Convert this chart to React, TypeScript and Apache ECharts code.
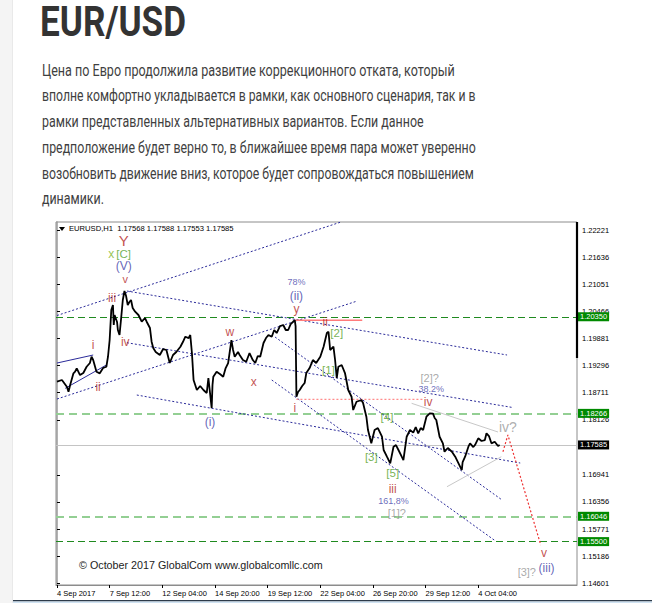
import React, { useEffect, useRef } from "react";
import * as echarts from "echarts";

// ---------- data ----------
const xTickBars = [0, 64, 128, 192, 256, 320, 384, 448, 512];
const xTickLabels = ["4 Sep 2017", "7 Sep 12:00", "12 Sep 04:00", "14 Sep 20:00", "19 Sep 12:00", "22 Sep 04:00", "26 Sep 20:00", "29 Sep 12:00", "4 Oct 04:00"];
const yTickValues = [1.22221, 1.21636, 1.21051, 1.20466, 1.19881, 1.19296, 1.18711, 1.18126, 1.16941, 1.16356, 1.15771, 1.15186, 1.14601];

const priceBar = [0, 6, 12, 14, 16, 20, 22, 24, 28, 32, 36, 40, 42, 44, 48, 52, 56, 60, 62, 64, 66, 68, 69, 70, 73, 74, 76, 78, 80, 82, 84, 86, 88, 90, 92, 95, 99, 103, 107, 109, 113, 115, 117, 120, 125, 129, 133, 137, 141, 145, 150, 153, 156, 160, 162, 164, 166, 170, 174, 178, 182, 184, 186, 188, 189, 190, 194, 198, 202, 205, 208, 212, 214, 216, 220, 222, 226, 230, 234, 238, 241, 244, 247, 251, 254, 257, 261, 264, 267, 271, 275, 278, 281, 284, 287, 289, 290, 291, 293, 295, 298, 301, 303, 307, 311, 315, 320, 324, 328, 330, 332, 336, 338, 340, 342, 346, 350, 354, 358, 360, 364, 370, 372, 376, 378, 382, 386, 390, 395, 397, 401, 405, 409, 412, 415, 419, 421, 425, 429, 433, 436, 439, 442, 445, 449, 453, 457, 459, 461, 465, 469, 471, 475, 480, 484, 488, 492, 493, 496, 500, 502, 506, 508, 512, 516, 520, 522, 525, 528, 532, 536, 538];
const priceClose = [1.18949, 1.18986, 1.18841, 1.18733, 1.18878, 1.1913, 1.19165, 1.19238, 1.19093, 1.19136, 1.19272, 1.19352, 1.19488, 1.19417, 1.19165, 1.1913, 1.19244, 1.19272, 1.19488, 1.19848, 1.20495, 1.20603, 1.20172, 1.20388, 1.20237, 1.20064, 1.19956, 1.20323, 1.20711, 1.20905, 1.20797, 1.20603, 1.20668, 1.20711, 1.20539, 1.20459, 1.20388, 1.20243, 1.20323, 1.20243, 1.20107, 1.19812, 1.19676, 1.19589, 1.19525, 1.19654, 1.19633, 1.19352, 1.19525, 1.19589, 1.19704, 1.19805, 1.19919, 1.19891, 1.19956, 1.19568, 1.18986, 1.1877, 1.18856, 1.1877, 1.18705, 1.19029, 1.18705, 1.18381, 1.18878, 1.19057, 1.19165, 1.19115, 1.19057, 1.19244, 1.19352, 1.19848, 1.19633, 1.19488, 1.19589, 1.19525, 1.19417, 1.1938, 1.19568, 1.19417, 1.19352, 1.19503, 1.19488, 1.19784, 1.19891, 1.19956, 1.19919, 1.20064, 1.19999, 1.2015, 1.20172, 1.20064, 1.20064, 1.20193, 1.20243, 1.2028, 1.2015, 1.18625, 1.18727, 1.1877, 1.18856, 1.18921, 1.19136, 1.19244, 1.19417, 1.19352, 1.19488, 1.19704, 1.19999, 1.20027, 1.19633, 1.19704, 1.19417, 1.19029, 1.19272, 1.19309, 1.19136, 1.1877, 1.18625, 1.18338, 1.18517, 1.18554, 1.18489, 1.18194, 1.17907, 1.1762, 1.17907, 1.1795, 1.17762, 1.17476, 1.17331, 1.17189, 1.17547, 1.17583, 1.17476, 1.17331, 1.1726, 1.17762, 1.17907, 1.1785, 1.17972, 1.17836, 1.1795, 1.17907, 1.18194, 1.18267, 1.1826, 1.18166, 1.18123, 1.17762, 1.1762, 1.17439, 1.17519, 1.17439, 1.17331, 1.17189, 1.17044, 1.17217, 1.17331, 1.17547, 1.1762, 1.1754, 1.17583, 1.17728, 1.1767, 1.17691, 1.17836, 1.17777, 1.1762, 1.17655, 1.17562, 1.17585];

const levelDark = [1.2035, 1.155];
const levelLight = [1.18266, 1.16046];
const lastPrice = 1.17585;

const navyDotted = [
  [[0, 1.20377], [344, 1.22387]],
  [[85, 1.20905], [547, 1.19525]],
  [[0, 1.18576], [365, 1.2069]],
  [[85, 1.1979], [554, 1.18392]],
  [[97, 1.18662], [563, 1.17195]],
  [[265, 1.19913], [541, 1.16397]],
  [[261, 1.18986], [533, 1.15513]],
];
const navySolid = [
  [[0, 1.19352], [44, 1.19525]],
  [[10, 1.18806], [60, 1.19309]],
];
const greySolid = [
  [[431, 1.18483], [536, 1.17864]],
  [[474, 1.16684], [540, 1.17331]],
];
const redProjection = [[542, 1.17439], [548, 1.17799], [588, 1.15426]];
const redSolid = [[289, 1.20275], [371, 1.20275]];
const pinkDotted = [[291, 1.18569], [445, 1.18569]];
const axisBlackBar = [[632, 1.22394], [632, 1.1946]];

const waveText = ["Y", "x", "[C]", "(V)", "v", "iii", "iv", "i", "ii", "w", "x", "(i)", "78%", "(ii)", "y", "ii", "i", "[2]", "[1]", "[3]", "[4]", "[5]", "iii", "161,8%", "[1]?", "[2]?", "38.2%", "iv", "iv?", "v", "[3]?", "(iii)"];
const waveBar = [81, 66, 81, 81, 83, 67, 83, 44, 50, 210, 239, 186, 291, 291, 291, 326, 289, 340, 330, 382, 401, 408, 408, 409, 413, 453, 455, 451, 548, 592, 571, 595];
const wavePrice = [1.22005, 1.21697, 1.21697, 1.21436, 1.21169, 1.20748, 1.19805, 1.1974, 1.18841, 1.20027, 1.18949, 1.18086, 1.21106, 1.20797, 1.20517, 1.20243, 1.18375, 1.19993, 1.19201, 1.17331, 1.18194, 1.16973, 1.16628, 1.16376, 1.1611, 1.19022, 1.18791, 1.18517, 1.17978, 1.15247, 1.1485, 1.14924];
const waveKind = ["redBig", "lime", "green", "navy", "redSmall", "red", "red", "red", "red", "red", "red", "navy", "pct", "navy", "red", "red", "red", "green", "green", "green", "green", "green", "red", "pct", "grey", "grey", "pct", "red", "greyBig", "red", "grey", "navy"];

const headerText = "EURUSD,H1  1.17568 1.17588 1.17553 1.17585";
const copyrightText = "© October 2017 GlobalCom www.globalcomllc.com";
const titleText = "EUR/USD";
const paragraph = [
  "Цена по Евро продолжила развитие коррекционного отката, который",
  "вполне комфортно укладывается в рамки, как основного сценария, так и в",
  "рамки представленных альтернативных вариантов. Если данное",
  "предположение будет верно то, в ближайшее время пара может уверенно",
  "возобновить движение вниз, которое будет сопровождаться повышением",
  "динамики.",
];

// ---------- layout / style ----------
const paraWidths = [413, 434, 382, 434, 432, 62];
const kindStyle: Record<string, { color: string; size: number }> = {
  red: { color: "#b3261e", size: 12 },
  redSmall: { color: "#b3261e", size: 11 },
  redBig: { color: "#b3261e", size: 15 },
  navy: { color: "#3d3aa6", size: 12 },
  pct: { color: "#4646aa", size: 9 },
  green: { color: "#53a02a", size: 11.5 },
  lime: { color: "#7fb51c", size: 12 },
  grey: { color: "#949494", size: 11 },
  greyBig: { color: "#9a9a9a", size: 14 },
};
const CH_FONT = "'Liberation Sans', Arial, sans-serif";

function fitScale(text: string, font: string, target: number) {
  const ctx = document.createElement("canvas").getContext("2d");
  if (!ctx) return 1;
  ctx.font = font;
  const w = ctx.measureText(text).width;
  return w > 0 ? target / w : 1;
}

export default function App() {
  const ref = useRef<HTMLDivElement>(null);
  useEffect(() => {
    const el = ref.current;
    if (!el) return;
    const chart = echarts.init(el, null, { renderer: "svg" });

    const titleFont = "bold 40px Roboto";
    const paraFont = "17px Roboto";
    const graphic: any[] = [
      { type: "rect", shape: { x: 0, y: 0, width: 12, height: 603 }, style: { fill: "#f4f4f4" }, silent: true },
      { type: "rect", shape: { x: 12, y: 0, width: 1, height: 603 }, style: { fill: "#e9e9e9" }, silent: true },
      { type: "rect", shape: { x: 13, y: 600, width: 639, height: 1.5 }, style: { fill: "#2d3b4a" }, silent: true },
      { type: "rect", shape: { x: 13, y: 601.5, width: 639, height: 2 }, style: { fill: "#cfe2f2" }, silent: true },
      {
        type: "text", x: 40, y: 21.5, scaleX: fitScale(titleText, titleFont, 146), scaleY: 1.05,
        style: { text: titleText, font: titleFont, fill: "#333333", align: "left", verticalAlign: "middle" },
      },
      ...paragraph.map((t, i) => ({
        type: "text", x: 42, y: 70 + 25.7 * i, scaleX: fitScale(t, paraFont, paraWidths[i]),
        style: { text: t, font: paraFont, fill: "#3f3f3f", align: "left", verticalAlign: "middle" },
      })),
      { type: "polygon", shape: { points: [[59, 227], [65, 227], [62, 231]] }, style: { fill: "#000" }, silent: true },
      {
        type: "text", x: 69, y: 229, scaleX: fitScale(headerText, `7.5px ${CH_FONT}`, 165),
        style: { text: headerText, font: `7.5px ${CH_FONT}`, fill: "#000", align: "left", verticalAlign: "middle" },
      },
      {
        type: "text", x: 79, y: 566, scaleX: fitScale(copyrightText, `10px ${CH_FONT}`, 244),
        style: { text: copyrightText, font: `10px ${CH_FONT}`, fill: "#222", align: "left", verticalAlign: "middle" },
      },
    ];

    const segSeries = (segs: number[][][], color: string, type: any, width: number, z = 3) =>
      segs.map((s) => ({
        type: "line", data: s, showSymbol: false, symbol: "none", silent: true, z,
        lineStyle: { color, type, width }, emphasis: { disabled: true },
      }));

    const tagLabel = (bg: string) => ({
      show: true, position: "end", distance: 1, formatter: (p: any) => Number(p.value).toFixed(5),
      backgroundColor: bg, color: "#fff", fontSize: 7.5, fontFamily: CH_FONT, padding: [1, 2, 0, 2],
    });

    const option: any = {
      animation: false,
      backgroundColor: "#ffffff",
      grid: { left: 56, right: 75, top: 222, bottom: 18, show: true, borderColor: "#8c8c8c", borderWidth: 1 },
      xAxis: {
        type: "value", min: -1.2, max: 632,
        axisLine: { show: true, lineStyle: { color: "#8c8c8c" } },
        axisTick: { show: true, customValues: xTickBars, length: 3, lineStyle: { color: "#000" } },
        axisLabel: {
          customValues: xTickBars, align: "left", fontSize: 7.5, fontFamily: CH_FONT, color: "#000", margin: 4,
          formatter: (v: number) => { const i = xTickBars.indexOf(Math.round(v)); return i >= 0 ? xTickLabels[i] : ""; },
        },
        splitLine: { show: false },
      },
      yAxis: {
        type: "value", position: "right", min: 1.14564, max: 1.22394,
        axisLine: { show: true, lineStyle: { color: "#9a9a9a", width: 1.5 } },
        axisTick: { show: true, customValues: yTickValues, length: 3, lineStyle: { color: "#000" } },
        axisLabel: {
          customValues: yTickValues, fontSize: 7.5, fontFamily: CH_FONT, color: "#000", margin: 5,
          formatter: (v: number) => v.toFixed(5),
        },
        splitLine: { show: false },
      },
      graphic,
      series: [
        {
          type: "line", data: [], z: 1, silent: true,
          markLine: {
            symbol: "none", silent: true, z: 1, precision: 5,
            data: [
              ...levelDark.map((v) => ({ yAxis: v, lineStyle: { color: "#1f8a1f", type: [7, 4], width: 1 }, label: tagLabel("#008a00") })),
              ...levelLight.map((v) => ({ yAxis: v, lineStyle: { color: "#93cf93", type: [8, 5], width: 2 }, label: tagLabel("#008a00") })),
              { yAxis: lastPrice, lineStyle: { color: "#c4c4c4", type: "solid", width: 1 }, label: tagLabel("#000000") },
            ],
          },
        },
        ...segSeries(navyDotted, "#2b2b9a", [2, 2], 1),
        ...segSeries(navySolid, "#2b2b9a", "solid", 1),
        ...segSeries(greySolid, "#c8c8c8", "solid", 1),
        ...segSeries([redSolid], "#ff7b7b", "solid", 1.5),
        ...segSeries([pinkDotted], "#ff8c8c", [2, 2], 1.2),
        ...segSeries([redProjection], "#ee3030", [2, 2], 1.2),
        {
          type: "line", data: priceBar.map((b, i) => [b, priceClose[i]]), showSymbol: false, symbol: "none",
          silent: true, z: 4, lineStyle: { color: "#000", width: 1.8 },
        },
        {
          type: "line", data: axisBlackBar, showSymbol: false, symbol: "none", clip: false, silent: true, z: 6,
          lineStyle: { color: "#000", width: 2.2 },
        },
        {
          type: "scatter", symbolSize: 0, silent: true, z: 7,
          data: waveText.map((t, i) => {
            const st = kindStyle[waveKind[i]];
            return {
              value: [waveBar[i], wavePrice[i]],
              label: { show: true, position: "inside", formatter: t, color: st.color, fontSize: st.size, fontFamily: CH_FONT },
            };
          }),
        },
      ],
    };
    chart.setOption(option);
    return () => chart.dispose();
  }, []);
  return <div ref={ref} style={{ position: "absolute", left: 0, top: 0, width: 652, height: 603, background: "#fff" }} />;
}
